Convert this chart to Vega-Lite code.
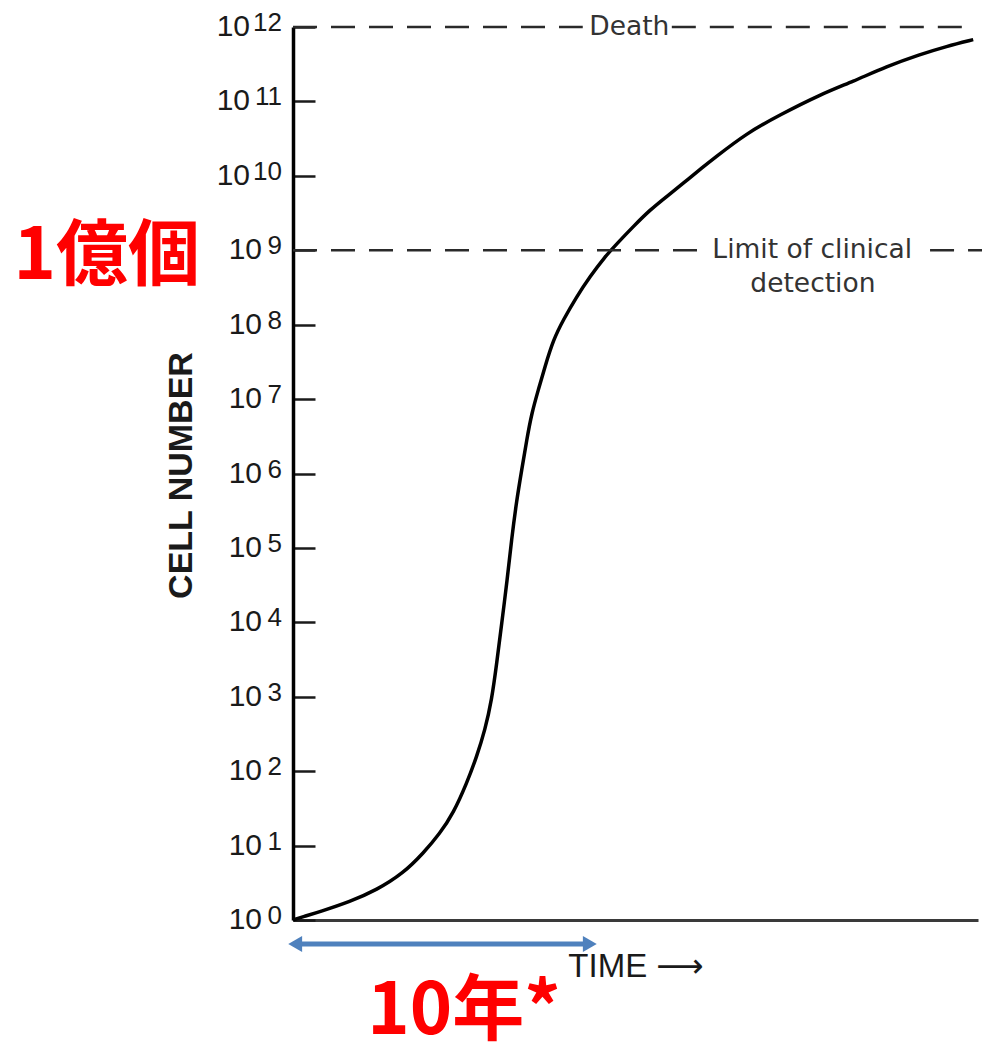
{
  "$schema": "https://vega.github.io/schema/vega-lite/v6.json",
  "width": 685,
  "height": 893,
  "autosize": {"type": "none"},
  "padding": {"left": 293, "top": 27, "right": 4, "bottom": 135},
  "background": "white",
  "config": {"view": {"stroke": null}, "font": "Liberation Sans"},
  "datasets": {
    "curve": [
      {"time": 0, "cells": 1},
      {"time": 1.5, "cells": 1.107},
      {"time": 3.94, "cells": 1.294},
      {"time": 8.32, "cells": 1.762},
      {"time": 12.22, "cells": 2.529},
      {"time": 16.1, "cells": 4.246},
      {"time": 19.02, "cells": 7.889},
      {"time": 21.46, "cells": 14.62},
      {"time": 23.4, "cells": 27.16},
      {"time": 25.36, "cells": 68.71},
      {"time": 26.82, "cells": 156.7},
      {"time": 28.03, "cells": 358.1},
      {"time": 29.01, "cells": 905.7},
      {"time": 29.74, "cells": 2818},
      {"time": 30.47, "cells": 9727},
      {"time": 31.27, "cells": 37150},
      {"time": 31.9, "cells": 128200},
      {"time": 32.66, "cells": 441600},
      {"time": 33.39, "cells": 1117000},
      {"time": 34.12, "cells": 2831000},
      {"time": 34.85, "cells": 6457000},
      {"time": 35.81, "cells": 13300000},
      {"time": 36.79, "cells": 27350000},
      {"time": 38.0, "cells": 62520000},
      {"time": 39.46, "cells": 116100000},
      {"time": 41.42, "cells": 238800000},
      {"time": 43.36, "cells": 443600000},
      {"time": 45.55, "cells": 822000000},
      {"time": 47.26, "cells": 1219000000},
      {"time": 49.68, "cells": 2084000000},
      {"time": 52.12, "cells": 3491000000},
      {"time": 54.55, "cells": 5272000000},
      {"time": 56.98, "cells": 7980000000},
      {"time": 59.9, "cells": 13210000000},
      {"time": 61.36, "cells": 16900000000},
      {"time": 66.23, "cells": 37500000000},
      {"time": 71.1, "cells": 66070000000},
      {"time": 76.9, "cells": 123000000000},
      {"time": 81.8, "cells": 186200000000},
      {"time": 86.67, "cells": 295100000000},
      {"time": 91.5, "cells": 426600000000},
      {"time": 95.4, "cells": 549500000000},
      {"time": 99.3, "cells": 676100000000}
    ],
    "ticks": [
      {"exp": 0, "value": 1},
      {"exp": 1, "value": 10},
      {"exp": 2, "value": 100},
      {"exp": 3, "value": 1000},
      {"exp": 4, "value": 10000},
      {"exp": 5, "value": 100000},
      {"exp": 6, "value": 1000000},
      {"exp": 7, "value": 10000000},
      {"exp": 8, "value": 100000000},
      {"exp": 9, "value": 1000000000},
      {"exp": 10, "value": 10000000000},
      {"exp": 11, "value": 100000000000},
      {"exp": 12, "value": 1000000000000}
    ],
    "refs": [
      {"line": "death", "t0": 0, "t1": 42.3, "cells": 1000000000000},
      {"line": "death", "t0": 55.3, "t1": 98.5, "cells": 1000000000000},
      {"line": "limit", "t0": 0, "t1": 59.0, "cells": 1000000000},
      {"line": "limit", "t0": 93.0, "t1": 100.6, "cells": 1000000000}
    ],
    "refLabels": [
      {"label": "Death", "time": 49.1, "cells": 1000000000000},
      {"label": "Limit of clinical", "time": 75.8, "cells": 1000000000},
      {"label": "detection", "time": 75.9, "cells": 353000000}
    ],
    "span": [
      {"t0": 0.32, "t1": 43.33, "cells": 0.476}
    ],
    "heads": [
      {"dir": "left", "time": 0.32, "cells": 0.476},
      {"dir": "right", "time": 43.33, "cells": 0.476}
    ],
    "bigLeft": [
      {"label": "1億個", "time": -27.2, "cells": 815000000}
    ],
    "bigBottom": [
      {"label": "10年*", "time": 24.96, "cells": 0.0294}
    ]
  },
  "layer": [
    {
      "data": {"name": "curve"},
      "mark": {"type": "line", "interpolate": "basis", "color": "black", "strokeWidth": 3.5},
      "encoding": {
        "x": {
          "field": "time", "type": "quantitative",
          "scale": {"type": "linear", "domain": [0, 100], "nice": false, "zero": false},
          "axis": {
            "title": "TIME ⟶", "labels": false, "ticks": false, "grid": false,
            "domainColor": "#3a3a3a", "domainWidth": 3,
            "titleFont": "Liberation Sans, DejaVu Sans", "titleFontSize": 33, "titleFontWeight": "normal",
            "titleColor": "#1a1a1a", "titleY": 46, "titleBaseline": "middle"
          }
        },
        "y": {
          "field": "cells", "type": "quantitative",
          "scale": {"type": "log", "domain": [1, 1000000000000], "nice": false},
          "axis": {
            "title": "CELL NUMBER", "labels": false, "grid": false,
            "values": [1, 10, 100, 1000, 10000, 100000, 1000000, 10000000, 100000000, 1000000000, 10000000000, 100000000000, 1000000000000],
            "tickSize": -22, "tickWidth": 2.5, "tickColor": "#1a1a1a",
            "domainColor": "black", "domainWidth": 3.5,
            "titleFont": "Liberation Sans", "titleFontSize": 34, "titleFontWeight": "bold",
            "titleColor": "#1a1a1a", "titleX": -112, "titleY": 448, "titleBaseline": "middle"
          }
        }
      }
    },
    {
      "data": {"name": "refs"},
      "mark": {"type": "rule", "strokeDash": [24, 14], "strokeWidth": 2.5, "color": "#2a2a2a"},
      "encoding": {
        "x": {"field": "t0", "type": "quantitative"},
        "x2": {"field": "t1"},
        "y": {"field": "cells", "type": "quantitative"}
      }
    },
    {
      "data": {"name": "refLabels"},
      "mark": {"type": "text", "font": "DejaVu Sans", "fontSize": 26.5, "color": "#333333", "align": "center", "baseline": "middle"},
      "encoding": {
        "x": {"field": "time", "type": "quantitative"},
        "y": {"field": "cells", "type": "quantitative"},
        "text": {"field": "label"}
      }
    },
    {
      "data": {"name": "ticks"},
      "transform": [{"filter": "datum.exp < 10"}],
      "mark": {"type": "text", "font": "Liberation Sans", "fontSize": 30, "color": "#1a1a1a", "align": "right", "baseline": "middle", "dx": -31},
      "encoding": {
        "x": {"datum": 0, "type": "quantitative"},
        "y": {"field": "value", "type": "quantitative"},
        "text": {"value": "10"}
      }
    },
    {
      "data": {"name": "ticks"},
      "transform": [{"filter": "datum.exp >= 10"}],
      "mark": {"type": "text", "font": "Liberation Sans", "fontSize": 30, "color": "#1a1a1a", "align": "right", "baseline": "middle", "dx": -43},
      "encoding": {
        "x": {"datum": 0, "type": "quantitative"},
        "y": {"field": "value", "type": "quantitative"},
        "text": {"value": "10"}
      }
    },
    {
      "data": {"name": "ticks"},
      "mark": {"type": "text", "font": "Liberation Sans", "fontSize": 26, "color": "#1a1a1a", "align": "right", "baseline": "middle", "dx": -11, "dy": -4},
      "encoding": {
        "x": {"datum": 0, "type": "quantitative"},
        "y": {"field": "value", "type": "quantitative"},
        "text": {"field": "exp", "type": "quantitative"}
      }
    },
    {
      "data": {"name": "span"},
      "mark": {"type": "rule", "color": "#4F81BD", "strokeWidth": 5},
      "encoding": {
        "x": {"field": "t0", "type": "quantitative"},
        "x2": {"field": "t1"},
        "y": {"field": "cells", "type": "quantitative"}
      }
    },
    {
      "data": {"name": "heads"},
      "mark": {"type": "point", "filled": true, "size": 256, "color": "#4F81BD", "opacity": 1},
      "encoding": {
        "x": {"field": "time", "type": "quantitative"},
        "y": {"field": "cells", "type": "quantitative"},
        "shape": {"field": "dir", "type": "nominal", "scale": {"domain": ["left", "right"], "range": ["triangle-left", "triangle-right"]}, "legend": null}
      }
    },
    {
      "data": {"name": "bigLeft"},
      "mark": {"type": "text", "font": "Noto Sans CJK JP", "fontWeight": "bold", "fontSize": 72, "color": "#FF0000", "align": "center", "baseline": "middle"},
      "encoding": {
        "x": {"field": "time", "type": "quantitative"},
        "y": {"field": "cells", "type": "quantitative"},
        "text": {"field": "label"}
      }
    },
    {
      "data": {"name": "bigBottom"},
      "mark": {"type": "text", "font": "Noto Sans CJK JP", "fontWeight": "bold", "fontSize": 72, "color": "#FF0000", "align": "center", "baseline": "alphabetic"},
      "encoding": {
        "x": {"field": "time", "type": "quantitative"},
        "y": {"field": "cells", "type": "quantitative"},
        "text": {"field": "label"}
      }
    }
  ]
}
